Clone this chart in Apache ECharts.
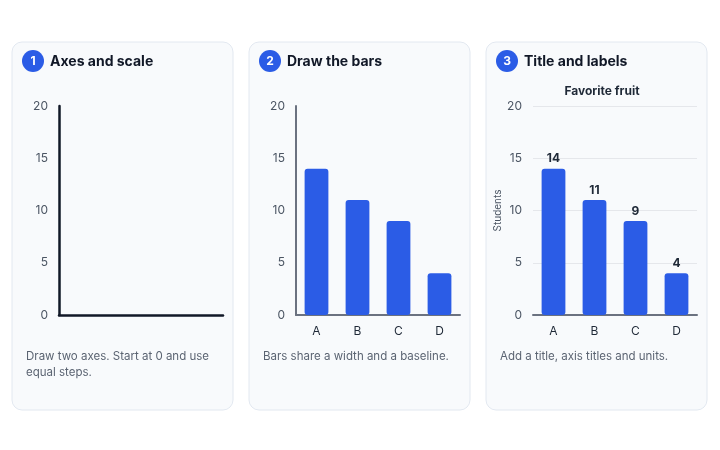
<!DOCTYPE html>
<html>
<head>
<meta charset="utf-8">
<script src="https://cdn.jsdelivr.net/npm/echarts@6/dist/echarts.min.js"></script>
<style>
  html, body { margin: 0; padding: 0; background: #ffffff; }
  #main { width: 720px; height: 450px; }
</style>
</head>
<body>
<div id="main"></div>
<script>
// data
const categories = ["A", "B", "C", "D"];
const students = [14, 11, 9, 4];
const yTicks = [0, 5, 10, 15, 20];
const headings = ["Axes and scale", "Draw the bars", "Title and labels"];
const captions = [
    "Draw two axes. Start at 0 and use\nequal steps.",
    "Bars share a width and a baseline.",
    "Add a title, axis titles and units."
];
const chartTitle = "Favorite fruit";
const yName = "Students";

(function(){
    const myChart = echarts.init(document.getElementById("main"));
    const blue = "#2b5ce6";
    const font = "Inter, 'Noto Sans', sans-serif";
    const cardX = [12, 249, 486];
    const gridLeft = [59, 296, 533];

    // 卡片、序号、标题、说明
    const graphic = [];
    cardX.forEach(function(x, i){
        graphic.push({
            type: "rect", z: -10,
            shape: { x: x, y: 42, width: 221, height: 368, r: 10 },
            style: { fill: "#f8fafc", stroke: "#e2e8f0", lineWidth: 1 }
        });
        graphic.push({
            type: "circle",
            shape: { cx: x + 21, cy: 61, r: 11 },
            style: { fill: blue }
        });
        graphic.push({
            type: "text", x: x + 21, y: 61.5,
            style: { text: String(i + 1), fill: "#fff", font: "bold 12px " + font, align: "center", verticalAlign: "middle" }
        });
        graphic.push({
            type: "text", x: x + 38, y: 61.5,
            style: { text: headings[i], fill: "#111827", font: "bold 14px " + font, verticalAlign: "middle" }
        });
        graphic.push({
            type: "text", x: x + 14, y: 349,
            style: { text: captions[i], fill: "#5b6472", font: "11.5px " + font, lineHeight: 16 }
        });
    });

    const yLabel = { color: "#4b5563", fontSize: 12, fontFamily: font, margin: 11 };
    const yBase = { type: "value", min: 0, max: 20, interval: 5, axisTick: { show: false }, axisLabel: yLabel };

    const option = {
        animation: false,
        graphic: graphic,
        title: {
            text: chartTitle, left: 597, top: 80, textAlign: "center",
            textStyle: { fontSize: 12, fontWeight: "bold", color: "#1f2937", fontFamily: font }
        },
        grid: gridLeft.map(function(l){
            return { left: l, top: 106, width: 164, height: 209 };
        }),
        xAxis: [0, 1, 2].map(function(i){
            return {
                type: "category", gridIndex: i, data: categories,
                axisTick: { show: false },
                axisLabel: { show: i > 0, color: "#1f2937", fontSize: 12, fontFamily: font, margin: 10 },
                axisLine: { lineStyle: { color: i === 0 ? "#111827" : "#6b7280", width: i === 0 ? 2.5 : 2 } }
            };
        }),
        yAxis: [
            Object.assign({}, yBase, {
                gridIndex: 0,
                axisLine: { show: true, lineStyle: { color: "#111827", width: 2.5 } },
                splitLine: { show: false }
            }),
            Object.assign({}, yBase, {
                gridIndex: 1,
                axisLine: { show: true, lineStyle: { color: "#6b7280", width: 2 } },
                splitLine: { show: false }
            }),
            Object.assign({}, yBase, {
                gridIndex: 2,
                name: yName, nameLocation: "middle", nameGap: 30,
                nameTextStyle: { color: "#4b5563", fontSize: 10, fontFamily: font },
                axisLine: { show: false },
                splitLine: { lineStyle: { color: "#e5e7eb" } }
            })
        ],
        series: [
            {
                type: "bar", xAxisIndex: 1, yAxisIndex: 1,
                data: students, barWidth: "58%",
                itemStyle: { color: blue, borderRadius: 3 }
            },
            {
                type: "bar", xAxisIndex: 2, yAxisIndex: 2,
                data: students, barWidth: "58%",
                itemStyle: { color: blue, borderRadius: 3 },
                label: { show: true, position: "top", distance: 4, color: "#1f2937", fontWeight: "bold", fontSize: 12, fontFamily: font }
            }
        ]
    };
    myChart.setOption(option);
    window.addEventListener("resize", function(){ myChart.resize(); });
})();
</script>
</body>
</html>
